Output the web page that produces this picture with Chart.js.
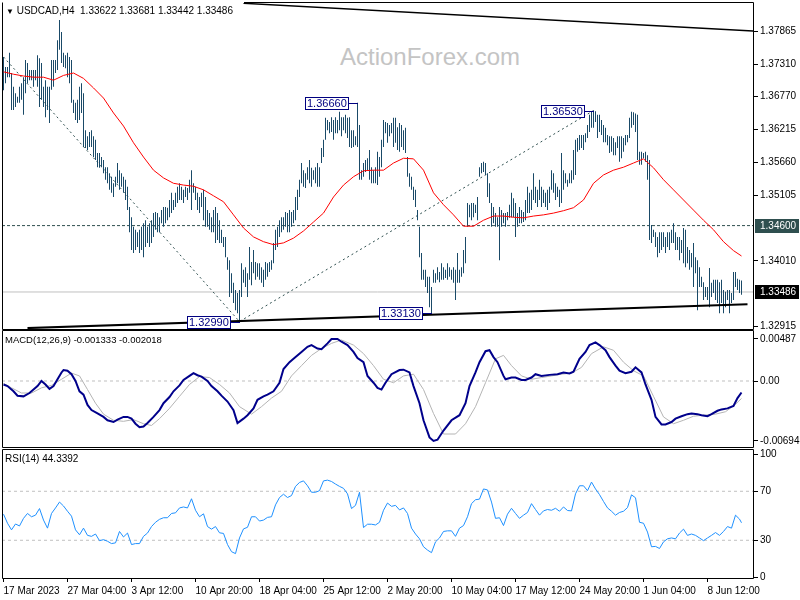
<!DOCTYPE html>
<html><head><meta charset="utf-8">
<script src="https://cdn.jsdelivr.net/npm/chart.js@4.4.0/dist/chart.umd.min.js"></script>
<style>
html,body{margin:0;padding:0;background:#fff;}
#wrap{position:relative;width:800px;height:600px;overflow:hidden;font-family:'Liberation Sans',Arial,sans-serif;}
canvas{position:absolute;left:0;z-index:1;}
.t{position:absolute;font-size:10px;color:#000;white-space:pre;z-index:3;line-height:1;}
#wm{position:absolute;left:340px;top:45px;font-size:24px;color:#c4c4c4;z-index:0;line-height:1;white-space:pre;}
</style></head><body>
<div id="wrap">
<div id="wm">ActionForex.com</div>
<canvas id="c1" width="800" height="330" style="top:0px"></canvas>
<canvas id="c2" width="800" height="119" style="top:330px"></canvas>
<canvas id="c3" width="800" height="151" style="top:449px"></canvas>
<div class="t" style="left:6px;top:6px;"><span style="font-size:8px">▼</span> USDCAD,H4  1.33622 1.33681 1.33442 1.33486</div>
<div class="t" style="left:5px;top:335px;font-size:9.5px">MACD(12,26,9) -0.001333 -0.002018</div>
<div class="t" style="left:5px;top:454px;">RSI(14) 44.3392</div>
</div>
<script>
// ---------- DATA ----------
const barHigh = [
1.3743,1.3726,1.3726,1.3750,1.3716,1.3693,1.3682,1.3676,1.3693,1.3699,
1.3709,1.3738,1.3733,1.3721,1.3721,1.3721,1.3721,1.3746,1.3741,1.3733,
1.3693,1.3704,1.3693,1.3693,1.3738,1.3738,1.3738,1.3771,1.3805,1.3785,
1.3750,1.3746,1.3750,1.3743,1.3738,1.3671,1.3666,1.3671,1.3693,1.3699,
1.3682,1.3620,1.3610,1.3617,1.3620,1.3610,1.3604,1.3582,1.3582,1.3575,
1.3570,1.3558,1.3558,1.3548,1.3542,1.3531,1.3542,1.3565,1.3553,1.3548,
1.3542,1.3537,1.3525,1.3491,1.3474,1.3458,1.3453,1.3449,1.3453,1.3458,
1.3464,1.3469,1.3458,1.3464,1.3469,1.3481,1.3483,1.3481,1.3474,1.3486,
1.3491,1.3491,1.3490,1.3503,1.3515,1.3503,1.3515,1.3525,1.3531,1.3525,
1.3520,1.3525,1.3523,1.3537,1.3553,1.3531,1.3525,1.3515,1.3508,1.3515,
1.3520,1.3508,1.3486,1.3481,1.3474,1.3486,1.3491,1.3481,1.3469,1.3453,
1.3441,1.3441,1.3407,1.3402,1.3380,1.3364,1.3352,1.3347,1.3352,1.3397,
1.3386,1.3390,1.3380,1.3424,1.3399,1.3419,1.3399,1.3397,1.3397,1.3390,
1.3386,1.3399,1.3397,1.3399,1.3402,1.3431,1.3453,1.3458,1.3469,1.3474,
1.3474,1.3483,1.3481,1.3486,1.3483,1.3486,1.3508,1.3520,1.3537,1.3565,
1.3553,1.3548,1.3558,1.3570,1.3557,1.3553,1.3558,1.3565,1.3558,1.3590,
1.3604,1.3641,1.3637,1.3634,1.3642,1.3637,1.3642,1.3637,1.3651,1.3642,
1.3642,1.3646,1.3641,1.3642,1.3620,1.3620,1.3610,1.3666,1.3629,1.3553,
1.3565,1.3570,1.3573,1.3587,1.3558,1.3553,1.3558,1.3584,1.3575,1.3604,
1.3637,1.3634,1.3632,1.3629,1.3632,1.3641,1.3641,1.3625,1.3632,1.3629,
1.3620,1.3624,1.3575,1.3548,1.3542,1.3525,1.3520,1.3486,1.3458,1.3414,
1.3386,1.3386,1.3374,1.3374,1.3357,1.3386,1.3380,1.3390,1.3382,1.3397,
1.3390,1.3386,1.3397,1.3390,1.3386,1.3390,1.3386,1.3414,1.3386,1.3390,
1.3419,1.3441,1.3498,1.3495,1.3498,1.3498,1.3495,1.3508,1.3558,1.3565,
1.3567,1.3565,1.3548,1.3531,1.3498,1.3491,1.3481,1.3474,1.3491,1.3486,
1.3481,1.3481,1.3483,1.3495,1.3515,1.3506,1.3498,1.3481,1.3491,1.3486,
1.3483,1.3503,1.3525,1.3515,1.3520,1.3548,1.3525,1.3520,1.3537,1.3525,
1.3520,1.3515,1.3520,1.3525,1.3553,1.3548,1.3531,1.3525,1.3520,1.3582,
1.3553,1.3548,1.3537,1.3548,1.3553,1.3587,1.3604,1.3607,1.3612,1.3612,
1.3612,1.3615,1.3629,1.3646,1.3651,1.3653,1.3652,1.3646,1.3646,1.3637,
1.3629,1.3624,1.3612,1.3610,1.3610,1.3607,1.3600,1.3610,1.3610,1.3610,
1.3607,1.3612,1.3612,1.3641,1.3651,1.3650,1.3648,1.3646,1.3584,1.3584,
1.3582,1.3584,1.3578,1.3570,1.3461,1.3453,1.3449,1.3441,1.3449,1.3449,
1.3449,1.3441,1.3449,1.3449,1.3453,1.3464,1.3449,1.3441,1.3441,1.3436,
1.3456,1.3453,1.3424,1.3419,1.3414,1.3431,1.3407,1.3402,1.3390,1.3374,
1.3365,1.3357,1.3357,1.3389,1.3364,1.3369,1.3369,1.3369,1.3365,1.3369,
1.3352,1.3349,1.3352,1.3352,1.3347,1.3382,1.3382,1.3371,1.3369,1.3368];
const barLow = [
1.3687,1.3699,1.3709,1.3709,1.3654,1.3654,1.3659,1.3666,1.3666,1.3671,
1.3646,1.3682,1.3699,1.3704,1.3704,1.3693,1.3704,1.3693,1.3659,1.3671,
1.3659,1.3642,1.3654,1.3632,1.3688,1.3693,1.3716,1.3721,1.3755,1.3733,
1.3726,1.3724,1.3709,1.3699,1.3666,1.3649,1.3637,1.3632,1.3637,1.3649,
1.3592,1.3590,1.3587,1.3592,1.3592,1.3575,1.3570,1.3558,1.3557,1.3558,
1.3548,1.3537,1.3531,1.3520,1.3515,1.3508,1.3525,1.3531,1.3520,1.3525,
1.3515,1.3503,1.3486,1.3449,1.3419,1.3414,1.3419,1.3424,1.3414,1.3419,
1.3407,1.3424,1.3431,1.3424,1.3431,1.3441,1.3453,1.3449,1.3449,1.3464,
1.3458,1.3464,1.3469,1.3474,1.3481,1.3486,1.3491,1.3498,1.3503,1.3503,
1.3498,1.3508,1.3503,1.3515,1.3486,1.3515,1.3503,1.3486,1.3481,1.3491,
1.3469,1.3458,1.3458,1.3453,1.3449,1.3449,1.3431,1.3436,1.3431,1.3431,
1.3424,1.3407,1.3386,1.3340,1.3347,1.3330,1.3318,1.3313,1.3299,1.3340,
1.3364,1.3357,1.3340,1.3369,1.3360,1.3380,1.3369,1.3374,1.3369,1.3364,
1.3357,1.3369,1.3374,1.3382,1.3386,1.3397,1.3419,1.3424,1.3441,1.3449,
1.3453,1.3458,1.3449,1.3449,1.3458,1.3464,1.3469,1.3486,1.3508,1.3531,
1.3525,1.3523,1.3537,1.3531,1.3525,1.3537,1.3531,1.3525,1.3525,1.3565,
1.3575,1.3604,1.3620,1.3615,1.3617,1.3604,1.3615,1.3615,1.3620,1.3610,
1.3620,1.3615,1.3607,1.3592,1.3590,1.3592,1.3595,1.3592,1.3537,1.3537,
1.3542,1.3550,1.3553,1.3537,1.3531,1.3531,1.3531,1.3528,1.3542,1.3558,
1.3592,1.3615,1.3599,1.3610,1.3615,1.3592,1.3599,1.3587,1.3584,1.3592,
1.3587,1.3582,1.3542,1.3525,1.3520,1.3503,1.3491,1.3469,1.3407,1.3369,
1.3369,1.3357,1.3347,1.3323,1.3313,1.3364,1.3364,1.3369,1.3365,1.3369,
1.3369,1.3372,1.3369,1.3374,1.3369,1.3364,1.3335,1.3364,1.3364,1.3374,
1.3380,1.3397,1.3458,1.3474,1.3469,1.3474,1.3481,1.3469,1.3542,1.3548,
1.3550,1.3545,1.3508,1.3498,1.3458,1.3464,1.3458,1.3458,1.3402,1.3458,
1.3464,1.3458,1.3469,1.3473,1.3474,1.3474,1.3441,1.3458,1.3464,1.3464,
1.3466,1.3469,1.3481,1.3481,1.3486,1.3503,1.3498,1.3491,1.3503,1.3491,
1.3498,1.3491,1.3486,1.3498,1.3520,1.3515,1.3503,1.3508,1.3491,1.3498,
1.3520,1.3531,1.3525,1.3531,1.3531,1.3537,1.3545,1.3584,1.3587,1.3590,
1.3587,1.3600,1.3607,1.3617,1.3624,1.3624,1.3634,1.3607,1.3617,1.3612,
1.3600,1.3600,1.3595,1.3582,1.3584,1.3578,1.3578,1.3590,1.3567,1.3573,
1.3584,1.3595,1.3600,1.3607,1.3624,1.3629,1.3617,1.3570,1.3562,1.3562,
1.3573,1.3567,1.3537,1.3436,1.3431,1.3441,1.3424,1.3407,1.3414,1.3419,
1.3424,1.3414,1.3424,1.3419,1.3431,1.3431,1.3419,1.3419,1.3402,1.3414,
1.3397,1.3390,1.3397,1.3386,1.3390,1.3357,1.3380,1.3318,1.3357,1.3357,
1.3335,1.3340,1.3335,1.3323,1.3340,1.3347,1.3335,1.3330,1.3313,1.3330,
1.3313,1.3323,1.3335,1.3313,1.3330,1.3335,1.3357,1.3352,1.3347,1.3344];

const maBar = [0,5,10,15,20,25,30,35,40,45,50,55,60,65,70,75,80,85,90,95,100,105,110,115,120,125,130,135,140,145,150,155,160,165,170,175,180,185,190,195,200,205,210,215,220,225,230,235,240,245,250,255,260,265,270,275,280,285,290,295,300,305,310,315,320,325,330,335,340,345,350,355,360,365,369];
const maVal = [1.3718,1.3714,1.3711,1.3709,1.3709,1.3704,1.3712,1.3716,1.3707,1.3691,1.3674,1.3649,1.3627,1.3599,1.3575,1.3553,1.3540,1.3531,1.3528,1.3526,1.3520,1.3510,1.3500,1.3478,1.3456,1.3441,1.3433,1.3428,1.3431,1.3439,1.3451,1.3466,1.3481,1.3508,1.3528,1.3542,1.3552,1.3553,1.3553,1.3565,1.3573,1.3572,1.3553,1.3515,1.3495,1.3478,1.3459,1.3459,1.3469,1.3476,1.3476,1.3474,1.3473,1.3476,1.3478,1.3481,1.3485,1.3490,1.3503,1.3531,1.3545,1.3553,1.3558,1.3565,1.3572,1.3557,1.3537,1.3520,1.3503,1.3486,1.3469,1.3453,1.3433,1.3418,1.3409];

const macdBar = [0,2,5,7,10,13,15,17,19,21,23,25,27,29,30,32,34,36,38,40,42,44,47,50,52,55,57,60,62,64,66,68,70,72,75,78,80,83,85,88,90,93,95,97,99,102,104,107,109,112,115,117,120,122,125,127,130,132,135,138,140,143,145,149,152,154,157,159,162,164,167,169,172,175,177,180,182,185,187,189,191,194,198,200,203,205,208,210,213,215,217,220,224,228,231,233,236,238,241,243,245,247,250,251,254,256,259,261,264,266,269,273,277,280,283,285,288,291,293,296,298,301,303,306,308,311,314,316,319,321,324,326,329,331,334,336,339,342,344,347,349,352,354,357,359,362,365,367,369];
const macdVal = [-0.00040,-0.00059,-0.00119,-0.00170,-0.00178,-0.00139,-0.00099,-0.00059,0.00000,-0.00040,
-0.00091,-0.00059,0.00020,0.00099,0.00127,0.00119,0.00079,0.00000,-0.00119,-0.00158,
-0.00277,-0.00337,-0.00376,-0.00416,-0.00455,-0.00475,-0.00447,-0.00416,-0.00416,-0.00436,
-0.00495,-0.00535,-0.00527,-0.00487,-0.00416,-0.00337,-0.00257,-0.00186,-0.00119,-0.00051,
0.00012,0.00059,0.00091,0.00067,0.00051,0.00000,-0.00059,-0.00119,-0.00170,-0.00238,
-0.00337,-0.00487,-0.00436,-0.00396,-0.00317,-0.00218,-0.00178,-0.00158,-0.00119,-0.00020,
0.00139,0.00218,0.00257,0.00337,0.00396,0.00416,0.00376,0.00368,0.00436,0.00487,
0.00487,0.00455,0.00416,0.00337,0.00265,0.00218,0.00059,-0.00020,-0.00079,-0.00099,
-0.00020,0.00079,0.00127,0.00131,0.00099,-0.00059,-0.00257,-0.00455,-0.00653,-0.006945,
-0.00680,-0.00574,-0.00455,-0.00396,-0.00257,-0.00059,0.00099,0.00218,0.00345,0.00356,
0.00277,0.00218,0.00059,0.00020,0.00040,0.00040,0.00012,0.00012,0.00040,0.00079,
0.00059,0.00071,0.00079,0.00099,0.00087,0.00107,0.00257,0.00337,0.00416,0.00447,
0.00416,0.00356,0.00277,0.00178,0.00119,0.00091,0.00107,0.00158,0.00099,-0.00040,
-0.00218,-0.00416,-0.00503,-0.00503,-0.00475,-0.00436,-0.00408,-0.00384,-0.00376,-0.00384,
-0.00396,-0.00408,-0.00384,-0.00345,-0.00329,-0.00317,-0.00289,-0.00198,-0.00133];

const sigBar = [0,4,9,14,19,24,29,34,38,42,46,50,55,60,65,70,74,78,83,88,93,98,103,108,113,118,124,129,134,139,144,149,154,159,164,169,175,180,185,190,195,200,205,210,215,220,226,231,236,241,246,250,254,259,264,269,274,279,284,289,294,300,305,310,315,320,325,330,335,340,345,350,356,361,366,369];
const sigVal = [-0.00028,-0.00079,-0.00139,-0.00139,-0.00079,-0.00051,0.00020,0.00091,0.00059,-0.00099,
-0.00257,-0.00384,-0.00455,-0.00467,-0.00447,-0.00495,-0.00515,-0.00436,-0.00317,-0.00178,
-0.00040,0.00051,0.00040,-0.00040,-0.00139,-0.00297,-0.00384,-0.00297,-0.00198,-0.00119,
0.00059,0.00178,0.00297,0.00376,0.00436,0.00475,0.00416,0.00317,0.00178,0.00020,
-0.00020,0.00059,0.00079,-0.00099,-0.00376,-0.00614,-0.00614,-0.00495,-0.00297,-0.00020,
0.00257,0.00297,0.00178,0.00059,0.00020,0.00040,0.00059,0.00079,0.00091,0.00158,
0.00317,0.00396,0.00356,0.00218,0.00119,0.00059,-0.00178,-0.00416,-0.00495,-0.00455,
-0.00408,-0.00396,-0.00384,-0.00356,-0.00270,-0.00202];

const rsiBar = [0,2,4,6,8,10,12,14,16,18,20,22,24,26,28,30,32,34,36,38,40,42,44,46,48,50,52,54,56,58,60,62,64,66,68,70,72,74,76,78,80,82,84,86,88,90,92,94,96,98,100,102,104,106,108,110,112,114,116,118,120,122,124,126,128,130,132,134,136,138,140,142,144,146,148,150,152,154,156,158,160,162,164,166,168,170,172,174,176,178,180,182,184,186,188,190,192,194,196,198,200,202,204,206,208,210,212,214,216,218,220,222,224,226,228,230,232,234,236,238,240,242,244,246,248,250,252,254,256,258,260,262,264,266,268,270,272,274,276,278,280,282,284,286,288,290,292,294,296,298,300,302,304,306,308,310,312,314,316,318,320,322,324,326,328,330,332,334,336,338,340,342,344,346,348,350,352,354,356,358,360,362,364,366,368,369];
const rsiVal = [51.3,43.9,38.5,43.3,41.7,47.9,51.9,49.2,50.5,55.9,
46.5,39.9,51.9,56.4,61.2,58.0,53.7,49.7,38.5,34.5,
39.9,34.0,33.2,35.1,29.7,30.5,29.2,27.3,27.9,37.2,
32.7,35.9,26.5,27.3,27.3,33.2,35.9,41.2,44.7,47.1,
48.4,48.4,51.9,52.4,56.4,57.2,56.4,63.9,54.5,49.2,
51.6,41.2,39.1,41.2,36.1,35.6,26.5,20.7,19.1,31.9,
39.3,40.6,49.2,49.2,45.7,46.5,48.7,49.2,58.9,64.9,
67.6,64.9,66.5,74.0,77.2,78.5,74.5,69.2,69.2,70.5,
78.5,79.1,78.0,75.9,74.0,72.4,67.9,55.9,58.5,69.2,
40.4,43.1,43.1,42.5,44.7,54.5,60.4,57.7,58.5,54.8,
56.4,51.9,39.9,35.1,31.2,24.7,22.0,19.9,28.7,31.9,
37.2,37.7,37.7,33.2,39.9,42.0,49.2,59.9,63.1,63.6,
71.9,71.1,61.2,47.9,48.4,42.0,51.3,56.1,51.9,47.9,
50.5,52.7,59.9,55.1,50.5,54.0,55.1,54.5,56.1,53.7,
57.2,54.3,54.0,67.9,74.5,74.5,70.5,77.5,71.9,67.3,
61.7,56.4,53.7,50.5,52.7,53.7,56.7,67.1,64.7,44.7,
43.9,36.7,24.7,25.0,23.3,28.7,31.2,31.9,31.2,35.9,
39.1,34.0,35.1,34.0,31.9,29.7,31.9,34.0,36.3,34.0,
37.2,41.2,39.9,50.5,47.3,44.3];

const priceTicks = [1.37865,1.3731,1.3677,1.36215,1.3566,1.35105,1.3401,1.32915];
const hLevel = 1.346;
const lastPrice = 1.33486;
const trendTopBar = [120,375];   const trendTopVal = [1.3833,1.37865];
const trendLowBar = [12,372];    const trendLowVal = [1.3288,1.3328];
const zigBar = [0,118,295];      const zigVal = [1.3743,1.3299,1.3653];
const peakBar = [118,177,214,295]; const peakVal = [1.3299,1.3666,1.3313,1.3653];
const macdTicks = [0.00487,0,-0.006945]; const macdTickLabels = ['0.00487','0.00','-0.006945'];
const rsiTicks = [100,70,30,0];
const rsiLevels = [70,30];
const timeBars = [0,32,64,96,128,160,192,224,256,288,320,352];
const timeLabels = ['17 Mar 2023','27 Mar 04:00','3 Apr 12:00','10 Apr 20:00','18 Apr 04:00','25 Apr 12:00','2 May 20:00','10 May 04:00','17 May 12:00','24 May 20:00','1 Jun 04:00','8 Jun 12:00'];

// ---------- RENDERING ----------
Chart.defaults.font.family = "'Liberation Sans', Arial, sans-serif";
Chart.defaults.font.size = 10;
Chart.defaults.color = '#000';
const X_MIN = -0.75, X_MAX = 374.75;
const pts = (xs, ys) => xs.map((x, k) => ({ x, y: ys[k] }));
const flat = (v) => [{ x: X_MIN, y: v }, { x: X_MAX, y: v }];
const hidX = () => ({ type: 'linear', min: X_MIN, max: X_MAX, display: false, offset: false, bounds: 'data' });
function lineDs(data, color, width, extra) {
  return Object.assign({ type: 'line', data, borderColor: color, borderWidth: width, pointRadius: 0, fill: false, tension: 0, order: 1 }, extra || {});
}
function rightAxis(min, max, ticks, labelFn) {
  return {
    position: 'right', min, max, bounds: 'data',
    afterFit: s => { s.width = 47; s.paddingTop = 0; s.paddingBottom = 0; },
    afterBuildTicks: s => { s.ticks = ticks.map(v => ({ value: v })); },
    ticks: { autoSkip: false, padding: 2, color: '#000', font: { size: 10 }, callback: (v, i) => labelFn(v, i) },
    grid: { drawOnChartArea: false, drawTicks: true, tickLength: 5, color: '#000' },
    border: { display: false }
  };
}
const framePlugin = {
  id: 'frame',
  afterDraw(chart, args, opts) {
    const { ctx, chartArea: a } = chart;
    const L = a.left + 0.5, R = a.right + 0.5, T = a.top - 0.5, B = a.bottom + 0.5;
    let tx = L;
    if (opts && opts.topFromBar !== undefined) tx = Math.round(chart.scales.x.getPixelForValue(opts.topFromBar));
    ctx.save(); ctx.strokeStyle = '#000'; ctx.lineWidth = 1; ctx.beginPath();
    ctx.moveTo(L, T); ctx.lineTo(L, B); ctx.lineTo(R, B); ctx.lineTo(R, T); ctx.lineTo(tx, T);
    ctx.stroke(); ctx.restore();
  }
};
const mainLabels = {
  id: 'mainLabels',
  afterDraw(chart) {
    const { ctx, chartArea: a, scales: { x, y } } = chart;
    ctx.save();
    ctx.font = "11px 'Liberation Sans', Arial, sans-serif";
    ctx.textBaseline = 'middle'; ctx.textAlign = 'left';
    peakBar.forEach((b, k) => {
      const px = Math.round(x.getPixelForValue(b));
      const py = Math.round(y.getPixelForValue(peakVal[k])) + 0.5;
      const txt = peakVal[k].toFixed(5);
      const w = Math.ceil(ctx.measureText(txt).width) + 4;
      const right = px - 9;
      ctx.strokeStyle = '#000080'; ctx.lineWidth = 1;
      ctx.beginPath(); ctx.moveTo(right, py); ctx.lineTo(px, py); ctx.stroke();
      ctx.fillStyle = '#fff'; ctx.fillRect(right - w, py - 6.5, w, 13);
      ctx.strokeRect(right - w + 0.5, py - 6, w - 1, 12);
      ctx.fillStyle = '#000080'; ctx.fillText(txt, right - w + 2, py + 0.5);
    });
    ctx.font = "10px 'Liberation Sans', Arial, sans-serif";
    [[hLevel, '#2f4f4f'], [lastPrice, '#000']].forEach(([v, bg]) => {
      const py = Math.round(y.getPixelForValue(v));
      ctx.fillStyle = bg; ctx.fillRect(a.right + 2, py - 7, 44, 14);
      ctx.fillStyle = '#fff'; ctx.fillText(v.toFixed(5), a.right + 7, py + 0.5);
    });
    ctx.restore();
  }
};
const common = { responsive: false, animation: false, devicePixelRatio: 1, events: [],
  plugins: { legend: { display: false }, tooltip: { enabled: false } } };

new Chart(document.getElementById('c1'), {
  type: 'bar',
  data: { datasets: [
    lineDs(flat(lastPrice), '#c0c0c0', 1, { order: 20 }),
    lineDs(flat(hLevel), '#2f4f4f', 1, { order: 19, borderDash: [3, 2] }),
    lineDs(pts(zigBar, zigVal), '#2f4f4f', 1, { order: 18, borderDash: [2, 3] }),
    { type: 'bar', data: barHigh.map((h, i) => ({ x: i, y: [barLow[i], h] })), backgroundColor: '#1a4a68',
      borderWidth: 0, barThickness: 1, inflateAmount: 0, order: 10 },
    lineDs(pts(maBar, maVal), '#ff0000', 1, { order: 5 }),
    lineDs(pts(trendTopBar, trendTopVal), '#000', 1.5, { order: 2 }),
    lineDs(pts(trendLowBar, trendLowVal), '#000', 2, { order: 2 })
  ] },
  options: Object.assign({}, common, {
    layout: { padding: { left: 2, right: 0, top: 3, bottom: 1 } },
    plugins: Object.assign({}, common.plugins, { frame: { topFromBar: trendTopBar[0] } }),
    scales: { x: hidX(), y: rightAxis(1.32865, 1.38335, priceTicks, v => Number(v).toFixed(5)) }
  }),
  plugins: [framePlugin, mainLabels]
});

new Chart(document.getElementById('c2'), {
  type: 'line',
  data: { datasets: [
    lineDs(flat(0), '#c0c0c0', 1, { order: 10, borderDash: [3, 3] }),
    lineDs(pts(sigBar, sigVal), '#b4b4b4', 1, { order: 5 }),
    lineDs(pts(macdBar, macdVal), '#00008b', 2, { order: 1 })
  ] },
  options: Object.assign({}, common, {
    layout: { padding: { left: 2, right: 0, top: 1, bottom: 2 } },
    scales: { x: hidX(), y: rightAxis(-0.007645, 0.005792, macdTicks, (v, i) => macdTickLabels[i]) }
  }),
  plugins: [framePlugin]
});

new Chart(document.getElementById('c3'), {
  type: 'line',
  data: { datasets: [
    ...rsiLevels.map(l => lineDs(flat(l), '#c0c0c0', 1, { order: 10, borderDash: [3, 3] })),
    lineDs(pts(rsiBar, rsiVal), '#1e90ff', 1, { order: 1 })
  ] },
  options: Object.assign({}, common, {
    layout: { padding: { left: 2, right: 0, top: 1, bottom: 0 } },
    scales: {
      x: { type: 'linear', min: X_MIN, max: X_MAX, offset: false, bounds: 'data', position: 'bottom',
        afterFit: s => { s.height = 22; s.paddingLeft = 0; s.paddingRight = 0; },
        afterBuildTicks: s => { s.ticks = timeBars.map(v => ({ value: v })); },
        ticks: { autoSkip: false, maxRotation: 0, minRotation: 0, align: 'start', padding: 3, color: '#000', font: { size: 10 },
          callback: (v, i) => timeLabels[i] },
        grid: { drawOnChartArea: false, drawTicks: true, tickLength: 4, color: '#000' },
        border: { display: false } },
      y: rightAxis(-0.8, 103.7, rsiTicks, v => String(v))
    }
  }),
  plugins: [framePlugin]
});
</script>
</body></html>
